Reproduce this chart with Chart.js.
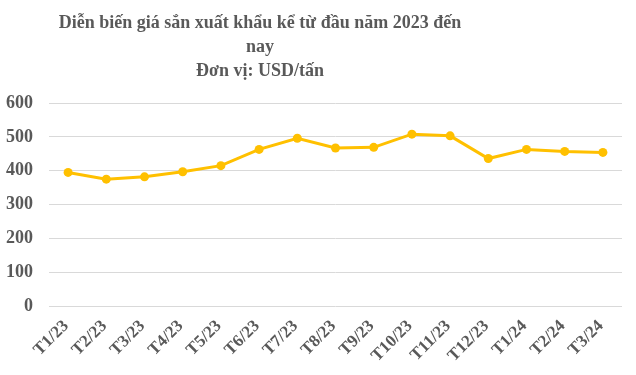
<!DOCTYPE html>
<html>
<head>
<meta charset="utf-8">
<script src="https://cdn.jsdelivr.net/npm/chart.js@4"></script>
<style>
    body { margin: 0; background: #fff; }
    #wrap { position: relative; width: 636px; height: 375px; }
    #title {
        position: absolute; left: 0; top: 10px; width: 520px;
        text-align: center; font: bold 18px "Liberation Serif", serif;
        line-height: 24px; color: #595959;
    }
</style>
</head>
<body>
<div id="wrap">
    <canvas id="priceChart" width="636" height="375"></canvas>
    <div id="title">Diễn biến giá sắn xuất khẩu kể từ đầu năm 2023 đến<br>nay<br>Đơn vị: USD/tấn</div>
</div>
<script>
// Months (T = tháng)
const months = ['T1/23', 'T2/23', 'T3/23', 'T4/23', 'T5/23', 'T6/23', 'T7/23', 'T8/23',
    'T9/23', 'T10/23', 'T11/23', 'T12/23', 'T1/24', 'T2/24', 'T3/24'];
// Export price, USD/tonne
const prices = [395, 375, 382, 397, 415, 463, 496, 467, 469, 508, 503, 436, 463, 457, 454];
const yTicks = [0, 100, 200, 300, 400, 500, 600];

const textColor = '#595959';
const gold = '#FFC000';

let priceChart = new Chart(document.getElementById('priceChart').getContext('2d'), {
    type: 'line',
    data: {
        labels: months,
        datasets: [{
            label: 'Giá',
            data: prices,
            borderColor: gold,
            backgroundColor: gold,
            borderWidth: 3,
            pointRadius: 4.5,
            pointBorderWidth: 0,
            pointHoverRadius: 4.5,
            tension: 0,
            fill: false
        }]
    },
    options: {
        responsive: false,
        animation: false,
        layout: { padding: { top: 103, left: 6, right: 14, bottom: 7 } },
        plugins: {
            legend: { display: false },
            title: { display: false },
            tooltip: { enabled: false }
        },
        scales: {
            x: {
                offset: true,
                grid: { display: false },
                border: { display: false },
                // don't reserve room on the left for the rotated first label
                afterFit: axis => { axis.paddingLeft = 0; axis.paddingRight = 0; },
                ticks: {
                    color: textColor,
                    font: { family: 'Liberation Serif', size: 17, weight: 'bold' },
                    maxRotation: 45,
                    minRotation: 45,
                    autoSkip: false,
                    labelOffset: -2,
                    padding: 2
                }
            },
            y: {
                min: 0,
                max: 600,
                afterBuildTicks: axis => { axis.ticks = yTicks.map(v => ({ value: v })); },
                // chart.js counts the tick padding twice for the axis width
                afterFit: axis => { axis.width -= axis.options.ticks.padding; },
                grid: { color: '#d9d9d9', lineWidth: 1, drawTicks: false },
                border: { display: false },
                ticks: {
                    color: textColor,
                    font: { family: 'Liberation Serif', size: 18, weight: 'bold' },
                    padding: 16
                }
            }
        }
    }
});
</script>
</body>
</html>
